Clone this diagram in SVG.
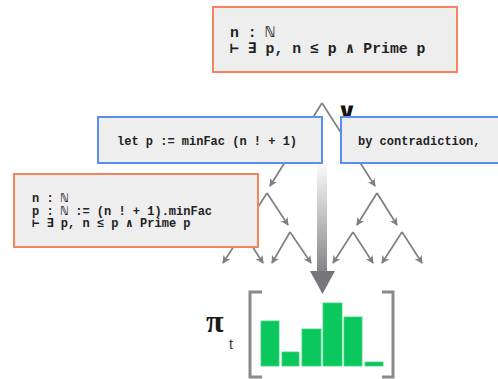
<svg xmlns="http://www.w3.org/2000/svg" width="498" height="379" viewBox="0 0 498 379">
<style>
.edge{stroke:#808080;stroke-width:1.7;fill:none;marker-end:url(#ah)}
.box{fill:#eeeeee;stroke-width:2}
.orange{stroke:#f5845c}
.blue{stroke:#5a8ef0}
.code{font-family:"Liberation Mono","DejaVu Sans Mono",monospace;font-weight:bold;fill:#222;font-size:12px}
.bar{fill:#0bc85e;stroke:#3ad57d;stroke-width:0.8}
.brk{fill:none;stroke:#8a8a8a;stroke-width:3}
</style>
<defs>
<marker id="ah" markerUnits="userSpaceOnUse" viewBox="0 0 8 8" refX="7" refY="4" markerWidth="8" markerHeight="8" orient="auto">
<path d="M0,0 L8,4 L0,8 L2,4 z" fill="#808080"/>
</marker>
<linearGradient id="shaft" x1="0" y1="0" x2="0" y2="1">
<stop offset="0" stop-color="#ffffff"/>
<stop offset="1" stop-color="#858589"/>
</linearGradient>
</defs>
<g id="connectors">
<line class="edge" x1="322" y1="103" x2="270" y2="186"/>
<line class="edge" x1="322" y1="103" x2="375" y2="186"/>
<line class="edge" x1="267" y1="193" x2="246" y2="226"/>
<line class="edge" x1="267" y1="193" x2="288" y2="225"/>
<line class="edge" x1="243" y1="232" x2="223" y2="263"/>
<line class="edge" x1="243" y1="232" x2="263" y2="263"/>
<line class="edge" x1="290" y1="232" x2="272" y2="263"/>
<line class="edge" x1="290" y1="232" x2="311" y2="263"/>
<line class="edge" x1="377" y1="193" x2="357" y2="225"/>
<line class="edge" x1="377" y1="193" x2="397" y2="225"/>
<line class="edge" x1="353" y1="232" x2="333" y2="263"/>
<line class="edge" x1="353" y1="232" x2="373" y2="263"/>
<line class="edge" x1="402" y1="232" x2="382" y2="263"/>
<line class="edge" x1="402" y1="232" x2="422" y2="263"/>
</g>
<g id="big-arrow">
<rect x="317" y="160" width="10" height="112" fill="url(#shaft)"/>
<polygon points="310,271 335,271 322.5,294" fill="#76767c"/>
</g>
<text x="347" y="120" font-family="DejaVu Sans" font-weight="bold" font-size="25" text-anchor="middle" fill="#111">∨</text>
<g id="goal-top">
<rect class="box orange" x="213" y="7" width="244" height="65"/>
<text class="code" style="font-size:14.8px" x="230" y="37">n : ℕ</text>
<text class="code" style="font-size:14.8px" x="230" y="53">⊢ ∃ p, n ≤ p ∧ Prime p</text>
</g>
<g id="tactic-let">
<rect class="box blue" x="98" y="117" width="224" height="46"/>
<text class="code" x="117" y="145">let p := minFac (n ! + 1)</text>
</g>
<g id="tactic-contra">
<rect class="box blue" x="341" y="117" width="170" height="46"/>
<text class="code" x="358" y="145">by contradiction,</text>
</g>
<g id="goal-left">
<rect class="box orange" x="14" y="174" width="244" height="73"/>
<text class="code" x="32" y="202">n : ℕ</text>
<text class="code" x="32" y="214.5">p : ℕ := (n ! + 1).minFac</text>
<text class="code" x="32" y="227">⊢ ∃ p, n ≤ p ∧ Prime p</text>
</g>
<g id="policy">
<text x="206" y="332" font-family="Liberation Serif" font-weight="bold" font-size="32" fill="#1a1a1a">π</text>
<text x="229" y="349" font-family="Liberation Sans" font-size="14" fill="#333">t</text>
<path class="brk" d="M262,292 H250 V377 H262"/>
<path class="brk" d="M382,292 H393 V377 H382"/>
<rect class="bar" x="261" y="321" width="18" height="45"/>
<rect class="bar" x="282" y="352" width="17" height="14"/>
<rect class="bar" x="302" y="329" width="19" height="37"/>
<rect class="bar" x="323" y="303" width="19" height="63"/>
<rect class="bar" x="344" y="317" width="18" height="49"/>
<rect class="bar" x="365" y="362" width="18" height="4"/>
</g>
</svg>
